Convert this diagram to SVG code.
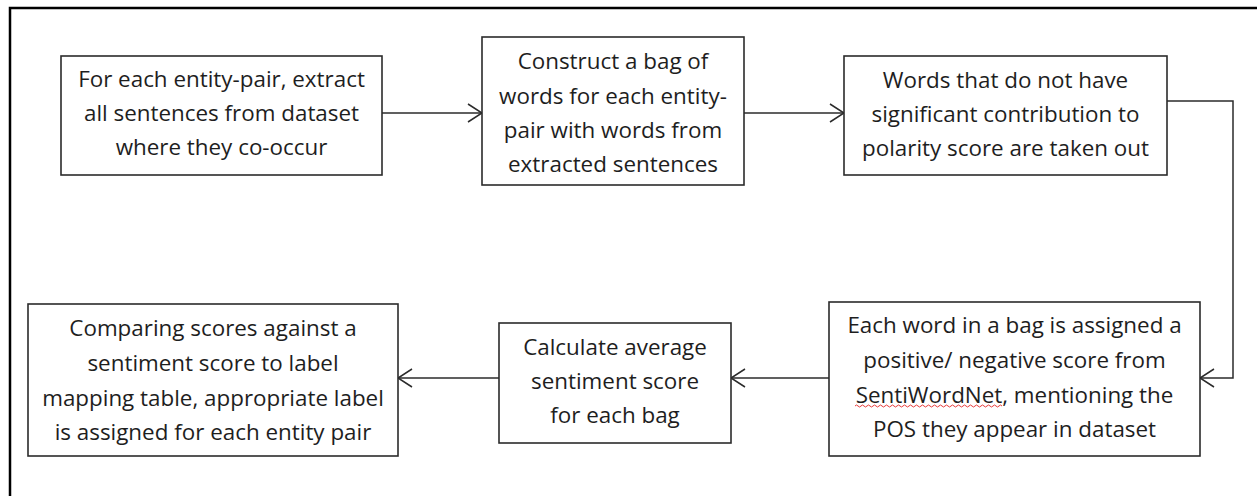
<svg xmlns="http://www.w3.org/2000/svg" width="1257" height="496" viewBox="0 0 1257 496">
  <defs>
    <style>
      .box { fill: #ffffff; stroke: #2b2b2b; stroke-width: 1.6; }
      .lbl { font-family: "Open Sans", Lato, "Liberation Sans", sans-serif; font-size: 22.4px; fill: #1e1e1e; text-anchor: middle; }
      .wire { fill: none; stroke: #2b2b2b; stroke-width: 1.5; }
      .frame { fill: none; stroke: #000000; stroke-width: 2.5; }
    </style>
    <marker id="open-arrow" viewBox="0 0 16 20" refX="15" refY="10" markerWidth="16" markerHeight="20" markerUnits="userSpaceOnUse" orient="auto">
      <path d="M1,1 L15,10 L1,19" fill="none" stroke="#2b2b2b" stroke-width="1.5"/>
    </marker>
  </defs>

  <rect width="1257" height="496" fill="#ffffff"/>

  <!-- outer frame (top and left edges visible) -->
  <path class="frame" d="M10,500 L10,8 L1260,8"/>

  <!-- connectors -->
  <g id="connectors">
    <line class="wire" x1="382" y1="113" x2="482" y2="113" marker-end="url(#open-arrow)"/>
    <line class="wire" x1="744" y1="113" x2="844" y2="113" marker-end="url(#open-arrow)"/>
    <polyline class="wire" points="1167,101 1233,101 1233,378 1200,378" marker-end="url(#open-arrow)"/>
    <line class="wire" x1="829" y1="378" x2="731" y2="378" marker-end="url(#open-arrow)"/>
    <line class="wire" x1="499" y1="378" x2="398" y2="378" marker-end="url(#open-arrow)"/>
  </g>

  <g id="step-extract">
    <rect class="box" x="61" y="56" width="321" height="119"/>
    <text class="lbl" x="221.5" y="87">For each entity-pair, extract</text>
    <text class="lbl" x="221.5" y="121">all sentences from dataset</text>
    <text class="lbl" x="221.5" y="155">where they co-occur</text>
  </g>

  <g id="step-bag">
    <rect class="box" x="482" y="37" width="262" height="148"/>
    <text class="lbl" x="613" y="69">Construct a bag of</text>
    <text class="lbl" x="613" y="103.5">words for each entity-</text>
    <text class="lbl" x="613" y="138">pair with words from</text>
    <text class="lbl" x="613" y="172">extracted sentences</text>
  </g>

  <g id="step-filter">
    <rect class="box" x="844" y="56" width="323" height="119"/>
    <text class="lbl" x="1005.5" y="88">Words that do not have</text>
    <text class="lbl" x="1005.5" y="122">significant contribution to</text>
    <text class="lbl" x="1005.5" y="156">polarity score are taken out</text>
  </g>

  <g id="step-score">
    <rect class="box" x="829" y="302" width="371" height="154"/>
    <text class="lbl" x="1014.5" y="333">Each word in a bag is assigned a</text>
    <text class="lbl" x="1014.5" y="368">positive/ negative score from</text>
    <text class="lbl" x="1014.5" y="403">SentiWordNet, mentioning the</text>
    <text class="lbl" x="1014.5" y="437">POS they appear in dataset</text>
    <!-- spell-check underline -->
    <path d="M855,406 q1.5,-2 3,0 t3,0 t3,0 t3,0 t3,0 t3,0 t3,0 t3,0 t3,0 t3,0 t3,0 t3,0 t3,0 t3,0 t3,0 t3,0 t3,0 t3,0 t3,0 t3,0 t3,0 t3,0 t3,0 t3,0 t3,0 t3,0 t3,0 t3,0 t3,0 t3,0 t3,0 t3,0 t3,0 t3,0 t3,0 t3,0 t3,0 t3,0 t3,0 t3,0 t3,0 t3,0 t3,0 t3,0 t3,0 t3,0 t3,0 t3,0 t3,0" fill="none" stroke="#e83a3a" stroke-width="1"/>
  </g>

  <g id="step-average">
    <rect class="box" x="499" y="323" width="232" height="120"/>
    <text class="lbl" x="615" y="355">Calculate average</text>
    <text class="lbl" x="615" y="389">sentiment score</text>
    <text class="lbl" x="615" y="423">for each bag</text>
  </g>

  <g id="step-label">
    <rect class="box" x="28" y="304" width="370" height="152"/>
    <text class="lbl" x="213" y="336">Comparing scores against a</text>
    <text class="lbl" x="213" y="371">sentiment score to label</text>
    <text class="lbl" x="213" y="406">mapping table, appropriate label</text>
    <text class="lbl" x="213" y="440">is assigned for each entity pair</text>
  </g>
</svg>
